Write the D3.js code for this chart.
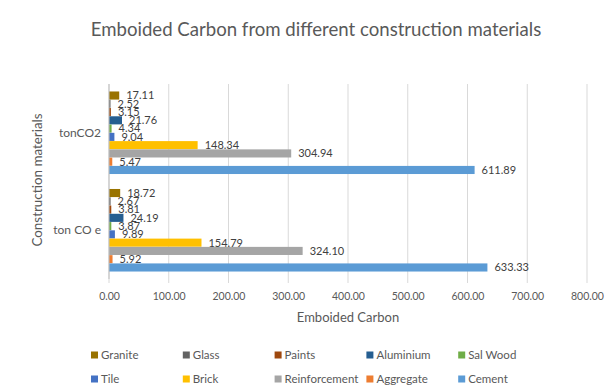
<!DOCTYPE html>
<html>
<head>
<meta charset="utf-8">
<script src="https://cdn.jsdelivr.net/npm/d3@7"></script>
<style>
  body { margin: 0; background: #fff; }
  text { font-family: Lato, "Open Sans", sans-serif; }
</style>
</head>
<body>
<div id="visual"></div>
<script>
// chart data
const categories = ["tonCO2", "ton CO e"];
const materials = ["Granite", "Glass", "Paints", "Aluminium", "Sal Wood", "Tile", "Brick", "Reinforcement", "Aggregate", "Cement"];
const tonCO2Values = [17.11, 2.52, 3.15, 21.76, 4.34, 9.04, 148.34, 304.94, 5.47, 611.89];
const tonCOeValues = [18.72, 2.67, 3.81, 24.19, 3.87, 9.89, 154.79, 324.10, 5.92, 633.33];
const xTicks = [0, 100, 200, 300, 400, 500, 600, 700, 800];
const colors = ["#997300", "#636363", "#9e480e", "#255e91", "#70ad47", "#4472c4", "#ffc000", "#a5a5a5", "#ed7d31", "#5b9bd5"];

const seriesByCat = { "tonCO2": tonCO2Values, "ton CO e": tonCOeValues };

const W = 616, H = 387;
const plotLeft = 109, plotRight = 587, plotTop = 84, plotBottom = 279;

const svg = d3.select("#visual")
    .append("svg")
    .attr("width", W)
    .attr("height", H);

// Scales
const x = d3.scaleLinear().domain([0, 800]).range([plotLeft, plotRight]);
const y0 = d3.scaleBand().domain(categories).range([plotTop, plotBottom]).paddingInner(0.15).paddingOuter(0.075);
const y1 = d3.scaleBand().domain(materials).range([0, y0.bandwidth()]).padding(0.02);
const color = d3.scaleOrdinal().domain(materials).range(colors);

// Gridlines
svg.append("g")
    .selectAll("line")
    .data(xTicks)
    .join("line")
    .attr("x1", d => x(d)).attr("x2", d => x(d))
    .attr("y1", plotTop).attr("y2", plotBottom + 4)
    .attr("stroke", "#d9d9d9")
    .attr("stroke-width", 1);

// X axis labels
const xAxis = svg.append("g")
    .attr("transform", "translate(0," + (plotBottom + 4) + ")")
    .call(d3.axisBottom(x).tickValues(xTicks).tickFormat(d3.format(".2f")).tickSize(0).tickPadding(10));
xAxis.select(".domain").remove();
xAxis.selectAll("text").attr("fill", "#595959").style("font-size", "10.5px").style("font-family", "Lato, sans-serif");

// Bars
const groups = svg.append("g")
    .selectAll("g")
    .data(categories)
    .join("g")
    .attr("transform", d => "translate(0," + y0(d) + ")");

groups.selectAll("rect")
    .data(c => materials.map((m, i) => ({ m: m, v: seriesByCat[c][i] })))
    .join("rect")
    .attr("x", x(0))
    .attr("y", d => y1(d.m))
    .attr("width", d => x(d.v) - x(0))
    .attr("height", y1.bandwidth())
    .attr("fill", d => color(d.m));

groups.selectAll("text")
    .data(c => materials.map((m, i) => ({ m: m, v: seriesByCat[c][i] })))
    .join("text")
    .attr("x", d => x(d.v) + 7)
    .attr("y", d => y1(d.m) + y1.bandwidth() / 2)
    .attr("dy", "0.35em")
    .attr("fill", "#404040")
    .style("font-size", "11px")
    .text(d => d.v.toFixed(2));

// Category axis line
svg.append("line")
    .attr("x1", x(0)).attr("x2", x(0))
    .attr("y1", plotTop).attr("y2", plotBottom)
    .attr("stroke", "#bfbfbf");

// Category labels
svg.append("g")
    .selectAll("text")
    .data(categories)
    .join("text")
    .attr("x", plotLeft - 8)
    .attr("y", d => y0(d) + y0.bandwidth() / 2)
    .attr("dy", "0.35em")
    .attr("text-anchor", "end")
    .attr("fill", "#595959")
    .style("font-size", "12px")
    .text(d => d);

// Title
svg.append("text")
    .attr("x", 316)
    .attr("y", 36)
    .attr("text-anchor", "middle")
    .attr("fill", "#595959")
    .style("font-size", "18.6px")
    .text("Emboided Carbon from different construction materials");

// Axis titles
svg.append("text")
    .attr("x", 348)
    .attr("y", 322)
    .attr("text-anchor", "middle")
    .attr("fill", "#595959")
    .style("font-size", "13px")
    .text("Emboided Carbon");

svg.append("text")
    .attr("transform", "translate(42,180) rotate(-90)")
    .attr("text-anchor", "middle")
    .attr("fill", "#595959")
    .style("font-size", "13.4px")
    .text("Construction materials");

// Legend
const legend = svg.append("g")
    .selectAll("g")
    .data(materials)
    .join("g")
    .attr("transform", (d, i) => "translate(" + (91 + (i % 5) * 91.8) + "," + (355 + Math.floor(i / 5) * 24) + ")");

legend.append("rect")
    .attr("x", 0).attr("y", -3.5)
    .attr("width", 7).attr("height", 7)
    .attr("fill", d => color(d));

legend.append("text")
    .attr("x", 10)
    .attr("dy", "0.35em")
    .attr("fill", "#595959")
    .style("font-size", "11.5px")
    .text(d => d);
</script>
</body>
</html>
